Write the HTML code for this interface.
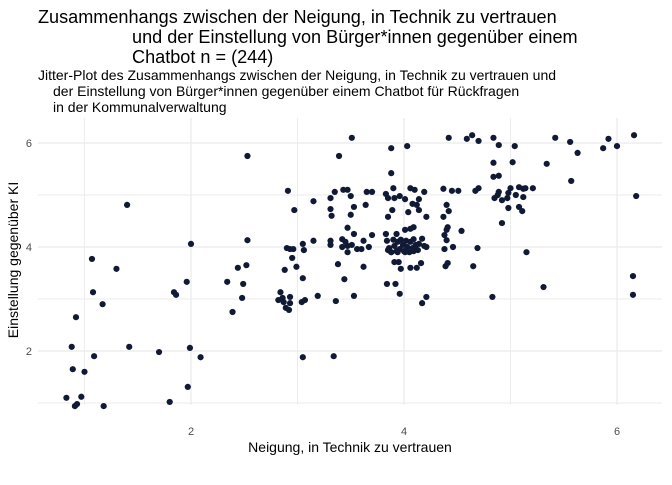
<!DOCTYPE html>
<html><head><meta charset="utf-8"><style>
body{margin:0;background:#fff;}
svg text{font-family:"Liberation Sans",sans-serif;}
</style></head><body>
<svg id="chart" width="672" height="480" xmlns="http://www.w3.org/2000/svg">
<rect width="672" height="480" fill="#fff"/>
<g font-size="18.1" fill="#000">
<text x="38" y="23">Zusammenhangs zwischen der Neigung, in Technik zu vertrauen</text>
<text x="132" y="43">und der Einstellung von Bürger*innen gegenüber einem</text>
<text x="132" y="63">Chatbot n = (244)</text>
</g>
<g font-size="14" fill="#000">
<text x="38" y="80">Jitter-Plot des Zusammenhangs zwischen der Neigung, in Technik zu vertrauen und</text>
<text x="53" y="96">der Einstellung von Bürger*innen gegenüber einem Chatbot für Rückfragen</text>
<text x="53" y="112">in der Kommunalverwaltung</text>
</g>
<g id="grid"></g>
<g id="ticks"></g>
<g id="pts"></g>
<text x="350" y="452" text-anchor="middle" font-size="14">Neigung, in Technik zu vertrauen</text>
<text transform="translate(18,260) rotate(-90)" text-anchor="middle" font-size="14">Einstellung gegenüber KI</text>
</svg>
<script>
const xTicks=[2,4,6];
const yTicks=[2,4,6];
const xs=[2.53,1.40,2.00,2.53,1.07,1.30,2.52,2.44,1.96,2.34,2.49,1.08,1.84,1.86,1.17,2.48,2.39,0.92,0.88,1.42,1.70,1.99,1.09,2.09,0.89,1.00,1.97,0.83,0.97,0.91,0.93,1.18,1.80,
3.51,4.42,4.59,3.88,4.03,3.39,3.88,2.91,3.15,2.97,3.35,3.43,3.47,3.31,3.50,3.65,3.70,3.83,3.90,3.85,3.91,3.96,4.01,4.06,4.10,4.19,4.14,4.08,4.12,4.14,4.04,4.21,4.37,4.45,4.51,4.40,4.42,4.37,3.31,3.32,3.50,3.53,3.64,3.89,3.85,3.47,3.53,3.70,3.83,3.93,4.01,4.06,4.09,4.38,4.41,4.40,4.40,4.54,4.46,4.38,3.15,3.31,3.31,3.42,3.45,3.42,3.47,3.51,3.56,3.60,3.47,3.62,3.67,3.05,3.06,2.90,2.93,2.96,2.95,2.99,2.88,3.05,3.38,3.44,3.62,
3.84,3.86,3.88,3.90,3.91,3.93,3.94,3.96,3.97,3.99,4.00,4.02,4.03,4.05,4.06,4.08,4.09,4.11,4.13,4.14,4.17,4.19,4.21,3.85,3.88,3.94,4.01,4.09,
3.91,3.95,3.97,4.06,4.12,4.16,4.39,4.41,3.84,3.92,3.96,4.21,4.17,3.19,3.36,3.53,2.84,2.82,2.86,2.87,2.93,2.93,2.89,2.92,3.04,3.07,3.05,3.34,
4.64,4.70,4.84,4.89,5.04,5.42,5.56,5.63,5.87,5.92,6.00,6.16,4.84,5.02,5.34,4.84,4.89,5.57,4.67,4.70,4.85,4.89,4.92,4.97,4.98,5.00,5.05,5.08,5.12,5.14,5.21,5.12,4.88,4.98,5.08,5.11,4.92,6.18,4.69,5.15,4.65,6.15,6.15,5.31,4.83];
const ys=[5.75,4.81,4.06,4.13,3.77,3.58,3.65,3.60,3.33,3.33,3.29,3.13,3.13,3.08,2.90,3.02,2.75,2.65,2.08,2.08,1.98,2.06,1.90,1.88,1.65,1.60,1.31,1.10,1.12,0.94,0.98,0.94,1.02,
6.10,6.10,6.08,5.90,5.94,5.75,5.42,5.08,4.88,4.71,5.06,5.10,5.10,4.94,4.98,5.06,5.06,5.02,5.13,4.94,4.94,4.98,4.92,5.13,5.10,5.06,4.92,4.83,4.81,4.71,4.67,4.58,5.12,5.08,5.08,4.81,4.69,4.58,4.73,4.60,4.62,4.77,4.81,4.71,4.58,4.37,4.25,4.23,4.25,4.25,4.33,4.35,4.38,4.23,4.38,4.33,4.13,4.31,4.00,3.96,4.12,4.12,4.04,4.15,4.10,4.00,4.02,4.04,3.96,3.96,3.90,4.12,4.00,4.06,3.94,3.98,3.96,3.96,3.79,3.62,3.56,3.40,3.67,3.38,3.62,
4.12,3.98,3.90,4.14,4.02,3.92,4.10,3.96,4.14,4.04,3.92,4.12,4.00,3.90,4.10,3.98,4.15,4.04,3.94,4.06,4.16,4.02,4.00,3.94,3.90,3.90,3.90,3.92,
3.71,3.71,3.58,3.60,3.60,3.69,3.63,3.69,3.29,3.29,3.10,3.04,2.92,3.06,2.96,3.06,3.13,2.98,3.02,2.94,3.04,2.92,2.83,2.79,2.94,2.98,1.88,1.90,
6.15,6.04,6.10,5.96,5.94,6.10,6.02,5.81,5.90,6.08,5.94,6.15,5.62,5.63,5.60,5.35,5.37,5.27,5.08,5.13,4.94,5.06,4.90,4.94,5.04,5.13,5.00,5.15,5.12,5.13,5.13,4.96,5.00,4.75,4.77,4.69,4.46,4.98,3.98,3.90,3.63,3.44,3.08,3.23,3.04];
const NS="http://www.w3.org/2000/svg";
const X=v=>191+(v-2)*106.5;
const Y=v=>247-(v-4)*52;
const L=38,R=662,T=118,B=405;
const grid=document.getElementById('grid');
function line(x1,y1,x2,y2,w,name){const l=document.createElementNS(NS,'line');
l.setAttribute('x1',x1);l.setAttribute('y1',y1);l.setAttribute('x2',x2);l.setAttribute('y2',y2);
l.setAttribute('stroke','#ebebeb');l.setAttribute('stroke-width',w);


grid.appendChild(l);}
[1,3,5].forEach(v=>line(X(v),T,X(v),B,0.9,'minor-gridline-x'));
[1,3,5].forEach(v=>line(L,Y(v),R,Y(v),0.9,'minor-gridline-y'));
xTicks.forEach(v=>line(X(v),T,X(v),B,1.3,'major-gridline-x'));
yTicks.forEach(v=>line(L,Y(v),R,Y(v),1.3,'major-gridline-y'));
const tk=document.getElementById('ticks');
xTicks.forEach(v=>{const t=document.createElementNS(NS,'text');t.setAttribute('x',X(v));t.setAttribute('y',435);
t.setAttribute('text-anchor','middle');t.setAttribute('font-size','11');t.setAttribute('fill','#4d4d4d');t.textContent=v;


tk.appendChild(t);});
yTicks.forEach(v=>{const t=document.createElementNS(NS,'text');t.setAttribute('x',32);t.setAttribute('y',Y(v)+4);
t.setAttribute('text-anchor','end');t.setAttribute('font-size','11');t.setAttribute('fill','#4d4d4d');t.textContent=v;


tk.appendChild(t);});
const pts=document.getElementById('pts');
xs.forEach((v,i)=>{const c=document.createElementNS(NS,'circle');c.setAttribute('cx',X(v));c.setAttribute('cy',Y(ys[i]));
c.setAttribute('r',3.1);c.setAttribute('fill','#111a35');


pts.appendChild(c);});
</script>
</body></html>
